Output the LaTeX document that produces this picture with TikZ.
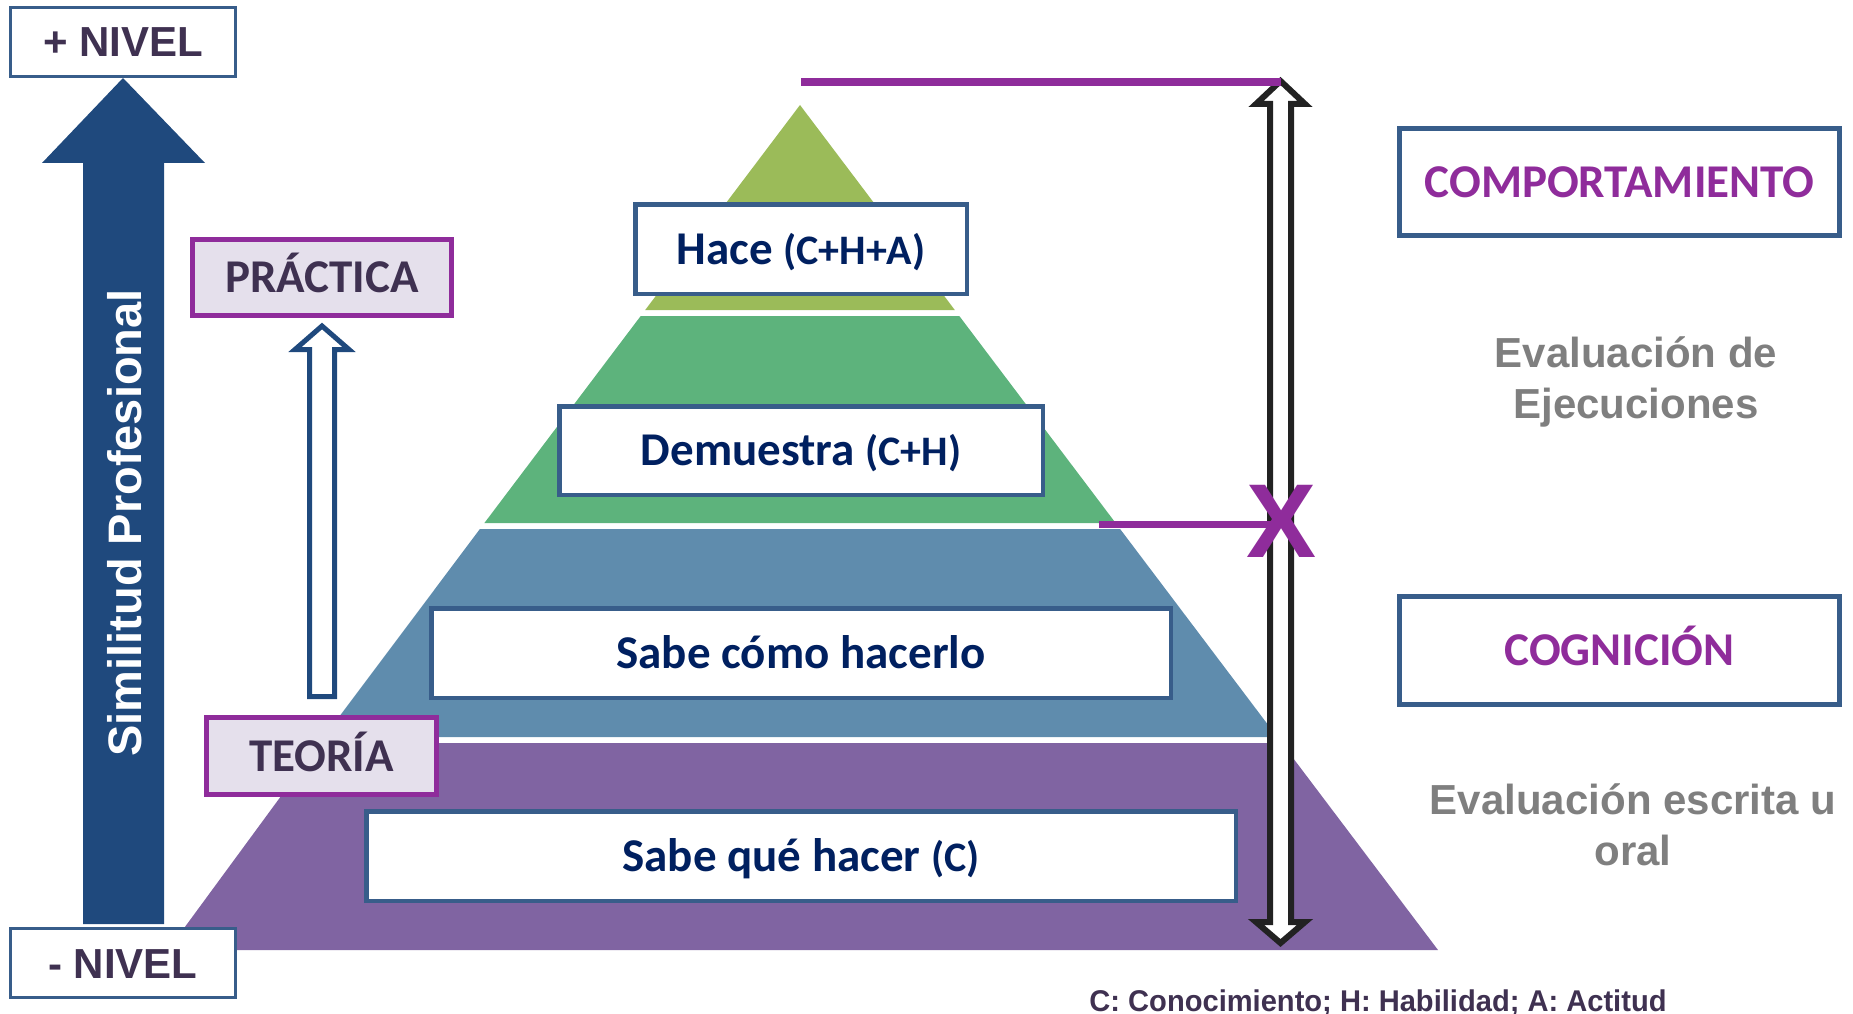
\documentclass[tikz,border=0pt]{standalone}
\usepackage{fontspec}
\setmainfont{Liberation Sans}
\newfontfamily\calib{Carlito}
\usepackage{graphicx}
\definecolor{boxBlue}{HTML}{385D8A}
\definecolor{navyT}{HTML}{002060}
\definecolor{darkPurp}{HTML}{3F3151}
\definecolor{magentaP}{HTML}{8F2C9B}
\definecolor{lavenderF}{HTML}{E5E0EC}
\definecolor{arrowBlue}{HTML}{1F497D}
\definecolor{grayT}{HTML}{7F7F7F}
\definecolor{pyrOlive}{HTML}{9BBB59}
\definecolor{pyrGreen}{HTML}{5DB37C}
\definecolor{pyrBlue}{HTML}{5F8CAD}
\definecolor{pyrPurple}{HTML}{8064A2}
\definecolor{darkLine}{HTML}{222222}
\begin{document}
\begin{tikzpicture}[x=1pt,y=-1pt,
  lvl/.style={draw=boxBlue, line width=4.5pt, fill=white, text=navyT,
    font=\calib\bfseries\fontsize{47}{56}\selectfont,
    text height=30pt, text depth=0pt, inner sep=0pt, minimum height=89.5pt},
  tagbox/.style={draw=magentaP, line width=5pt, fill=lavenderF, text=darkPurp,
    font=\calib\bfseries\fontsize{47}{56}\selectfont,
    text height=30pt, text depth=0pt, inner sep=0pt, minimum height=76.5pt},
  nivel/.style={draw=boxBlue, line width=3pt, fill=white, text=darkPurp,
    font=\bfseries\fontsize{42}{50}\selectfont,
    text height=30pt, text depth=0pt, inner sep=0pt,
    minimum width=225pt, minimum height=69pt},
  catbox/.style={draw=boxBlue, line width=5pt, fill=white, text=magentaP,
    font=\calib\bfseries\fontsize{47}{56}\selectfont,
    text height=30pt, text depth=0pt, inner sep=0pt,
    minimum width=440pt, minimum height=107pt},
  evaltext/.style={text=grayT, font=\bfseries\fontsize{42}{51}\selectfont,
    align=center, inner sep=0pt, anchor=base},
  hollowdark/.style={draw=darkLine, line width=6pt, fill=white, line join=miter},
  hollowblue/.style={draw=arrowBlue, line width=5pt, fill=white, line join=miter},
  purpline/.style={draw=magentaP, line width=8pt}
]
\useasboundingbox (0,0) rectangle (1853,1014);

% pyramid bands
\fill[pyrOlive] (800,105) -- (954.8,310) -- (645.2,310) -- cycle;
\fill[pyrGreen] (640.7,316) -- (959.3,316) -- (1115.6,523) -- (484.4,523) -- cycle;
\fill[pyrBlue] (479.9,529) -- (1120.1,529) -- (1277.2,737) -- (324,737) -- cycle;
\fill[pyrPurple] (320,743) -- (1281.7,743) -- (1438,950) -- (168,950) -- cycle;

% level boxes
\node[lvl, minimum width=331.5pt] (hace) at (801,249) {Hace {\fontsize{42}{50}\selectfont(C+H+A)}};
\node[lvl, minimum width=483.5pt, minimum height=88.5pt] (demuestra) at (801,450.5) {Demuestra {\fontsize{42}{50}\selectfont(C+H)}};
\node[lvl, minimum width=739.5pt] (sabecomo) at (801,653) {Sabe cómo hacerlo};
\node[lvl, minimum width=869.5pt] (sabeque) at (801,856) {Sabe qué hacer {\fontsize{42}{50}\selectfont(C)}};

% big arrow between the level labels
\node[nivel] (plus) at (123,42) {+ NIVEL};
\node[nivel] (minus) at (123,963) {- NIVEL};
\fill[arrowBlue] (plus.south) -- (205,163) -- (164,163) -- (164,924) -- (83,924) -- (83,163) -- (42,163) -- cycle;
\node[nivel] at (plus) {+ NIVEL};
\node[nivel] at (minus) {- NIVEL};
\node[rotate=90, text=white, font=\bfseries\fontsize{47}{56}\selectfont, inner sep=0pt] (simil) at (125,523) {Similitud Profesional};

% practica / teoria
\node[tagbox, minimum width=259pt] (practica) at (322,277.5) {PRÁCTICA};
\node[tagbox, minimum width=230pt, minimum height=77pt] (teoria) at (321.5,756) {TEORÍA};
\draw[hollowblue] (322,326) -- (349,349.5) -- (334.5,349.5) -- (334.5,696.5) -- (309.5,696.5) -- (309.5,349.5) -- (295,349.5) -- cycle;

% double arrow
\coordinate (dtop) at (1280.5,81);
\coordinate (dbot) at (1280.5,943);
\draw[hollowdark] (dtop) -- (1305,104) -- (1291,104) -- (1291,922) -- (1305,922) -- (dbot) -- (1256,922) -- (1270,922) -- (1270,104) -- (1256,104) -- cycle;

% purple lines and X
\coordinate (apexl) at (801,82);
\draw[purpline] (apexl) -- (dtop |- apexl);
\coordinate (midl) at (1099,524.5);
\draw[purpline, line width=7.5pt] (midl) -- (dtop |- midl);
\node[text=magentaP, font=\bfseries\fontsize{105}{120}\selectfont, text height=75pt, text depth=0pt, inner sep=0pt] (xmark) at (1281.5,519.5) {X};

% right side
\node[catbox] (comp) at (1619.5,182) {COMPORTAMIENTO};
\node[catbox, minimum height=108pt] (cogn) at (1619.5,650.5) {COGNICIÓN};
\node[evaltext] (evalej) at (1636,418) {Evaluación de\\Ejecuciones};
\node[evaltext] (evalesc) at (1633,865) {Evaluación escrita u\\oral};

% footer
\node[anchor=base, text=darkPurp, font=\bfseries\fontsize{30}{36}\selectfont, inner sep=0pt] (legend) at (1378,1011) {\scalebox{0.97}[1]{C: Conocimiento; H: Habilidad; A: Actitud}};
\end{tikzpicture}
\end{document}
